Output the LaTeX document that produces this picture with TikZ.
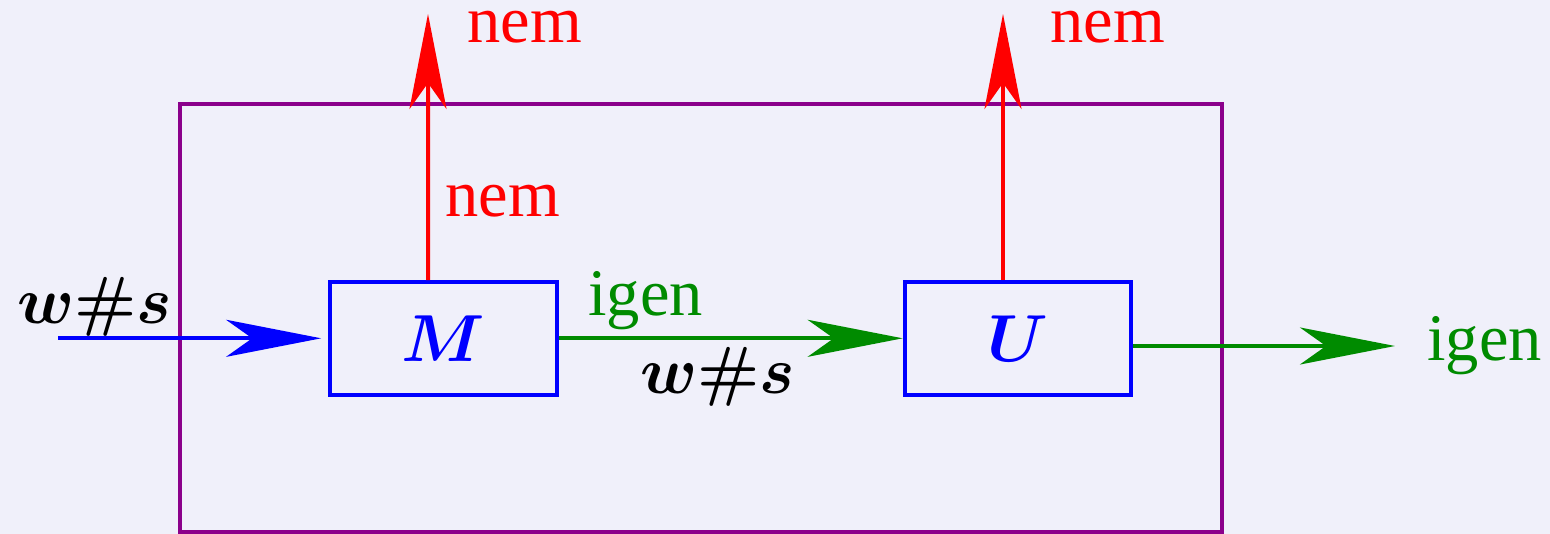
\RequirePackage{fix-cm}
\documentclass[tikz,border=0pt]{standalone}
\usepackage[no-math]{fontspec}
\setmainfont{Liberation Serif}
\usepackage{bm}
\usetikzlibrary{arrows.meta}
\definecolor{bgc}{RGB}{240,240,250}
\definecolor{frame}{RGB}{139,0,139}
\definecolor{gr}{RGB}{0,139,0}
\newcommand\bhash{\mbox{\usefont{OT1}{cmr}{bx}{n}\#}}
\tikzset{
  big/.style={font=\fontsize{33.25}{40}\selectfont, inner sep=0pt, anchor=base west},
  blk/.style={draw=blue, line width=2pt, minimum width=113.3pt, minimum height=56.3pt, inner sep=0pt, font=\fontsize{33.25}{40}\selectfont, text=blue},
  arr/.style={line width=2pt, -{Stealth[length=47.5pt, width=18.5pt, inset=13pt]}}
}
\begin{document}
\begin{tikzpicture}[x=0.5pt, y=-0.5pt]
\fill[bgc] (0,0) rectangle (1550,534);
\useasboundingbox (0,0) rectangle (1550,534);
\draw[frame, line width=2pt] (179.5,104) rectangle (1222,532);
\node[blk] (M) at (443.7,338.3) {$\bm{M}$};
\node[blk] (U) at (1018,338.3) {$\bm{U}$};
\coordinate (inL) at (58,338.3);
\coordinate (outR) at (1395,346);
\coordinate (topM) at (428,14);
\coordinate (topU) at (1003,14);
\draw[arr, blue] (inL) -- ([xshift=-3.6pt]M.west);
\draw[arr, gr] (M.east) -- (U.west);
\draw[arr, gr] ([yshift=-3.85pt]U.east) -- (outR);
\draw[arr, red] ([xshift=-7.85pt]M.north) -- (topM);
\draw[arr, red] ([xshift=-7.5pt]U.north) -- (topU);
\node[big, text=red] (nem1) at (467,43) {nem};
\node[big, text=red] (nem2) at (1050,43) {nem};
\node[big, text=red] (nem3) at (445,216.7) {nem};
\node[big, text=gr] (igen1) at (588,315) {igen};
\node[big, text=gr] (igen2) at (1427,360) {igen};
\node[big] (ws1) at (17,323) {$\bm{w}\bhash\bm{s}$};
\node[big] (ws2) at (640,393) {$\bm{w}\bhash\bm{s}$};
\end{tikzpicture}
\end{document}
